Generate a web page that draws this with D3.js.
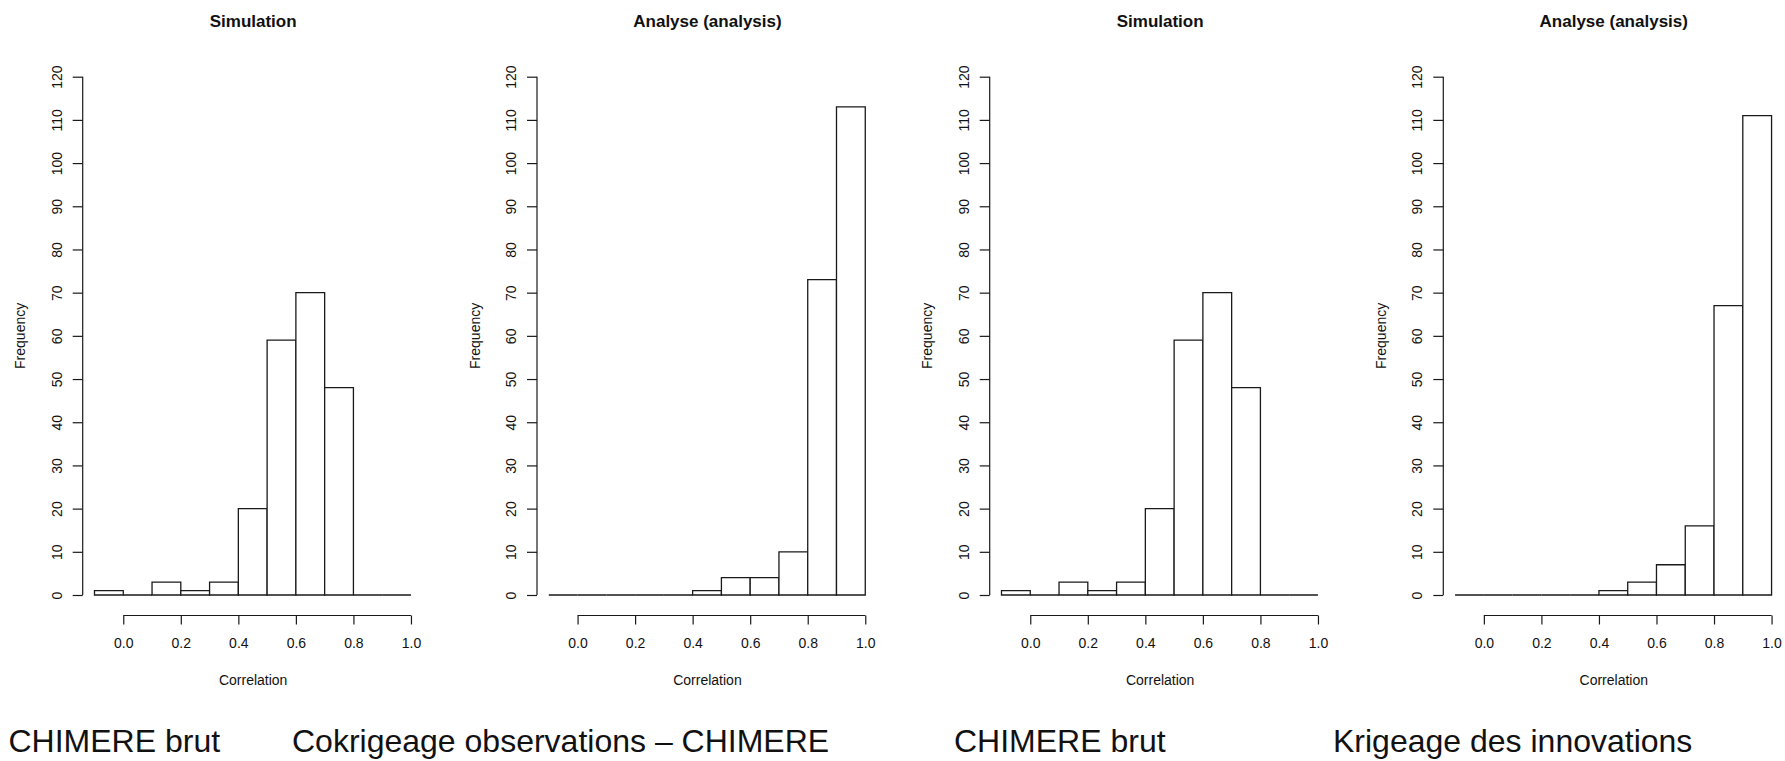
<!DOCTYPE html>
<html>
<head>
<meta charset="utf-8">
<script src="https://cdn.jsdelivr.net/npm/d3@7"></script>
<style>
  body { margin: 0; background: #fff; }
  svg { display: block; }
  text { font-family: "Liberation Sans", Arial, Helvetica, sans-serif; fill: #111; }
</style>
</head>
<body>
<svg id="chart" width="1785" height="761"></svg>
<script>
// Histogram bins of the correlation coefficient (edges shared by every panel)
const binEdges = [-0.1, 0.0, 0.1, 0.2, 0.3, 0.4, 0.5, 0.6, 0.7, 0.8, 0.9, 1.0];

// Counts per bin
const simulationCounts = [1, 0, 3, 1, 3, 20, 59, 70, 48, 0, 0];
const cokrigeageCounts = [0, 0, 0, 0, 0, 1, 4, 4, 10, 73, 113];
const krigeageCounts   = [0, 0, 0, 0, 0, 1, 3, 7, 16, 67, 111];

// Axis ticks
const correlationTicks = [0.0, 0.2, 0.4, 0.6, 0.8, 1.0];
const frequencyTicks = [0, 10, 20, 30, 40, 50, 60, 70, 80, 90, 100, 110, 120];

// Panels, left to right
const panelTitles = ["Simulation", "Analyse (analysis)", "Simulation", "Analyse (analysis)"];
const panelCounts = [simulationCounts, cokrigeageCounts, simulationCounts, krigeageCounts];
const captions = ["CHIMERE brut", "Cokrigeage observations \u2013 CHIMERE", "CHIMERE brut", "Krigeage des innovations"];

// Layout
const panelLeft = [82.7, 537, 989.7, 1443.3];   // x of each panel's frequency axis
const captionLeft = [8.5, 292, 954, 1333];
const unitWidth = 287.7;                         // pixels for one unit of correlation
const xDomain = [-0.141, 1.044];
const yTop = 76.7, yBottom = 595;
const xAxisY = 615.5;
const ink = "#1a1a1a";

const svg = d3.select("#chart");
svg.append("rect").attr("width", 1785).attr("height", 761).attr("fill", "#fff");

panelTitles.forEach((title, p) => {
  const left = panelLeft[p];
  const x = d3.scaleLinear()
    .domain(xDomain)
    .range([left, left + (xDomain[1] - xDomain[0]) * unitWidth]);
  const y = d3.scaleLinear().domain([0, 120]).range([yBottom, yTop]);
  const centerX = (x.range()[0] + x.range()[1]) / 2;

  const g = svg.append("g");

  // bars as closed outlines, so empty bins still show as a line on the baseline
  const bins = panelCounts[p].map((c, i) => ({ x0: binEdges[i], x1: binEdges[i + 1], count: c }));
  g.selectAll("path.bar").data(bins).join("path")
    .attr("class", "bar")
    .attr("d", d => {
      const p0 = d3.path();
      p0.moveTo(x(d.x0), y(0));
      p0.lineTo(x(d.x0), y(d.count));
      p0.lineTo(x(d.x1), y(d.count));
      p0.lineTo(x(d.x1), y(0));
      p0.closePath();
      return p0.toString();
    })
    .attr("fill", "#fff")
    .attr("stroke", ink)
    .attr("stroke-width", 1.3);

  // x axis
  const xAxis = g.append("g").attr("transform", `translate(0,${xAxisY})`)
    .call(d3.axisBottom(x).tickValues(correlationTicks).tickSize(9).tickFormat(d3.format(".1f")));
  xAxis.select(".domain").remove();
  xAxis.append("line")
    .attr("x1", x(correlationTicks[0])).attr("x2", x(correlationTicks[correlationTicks.length - 1]))
    .attr("stroke", ink).attr("stroke-width", 1.2);
  xAxis.selectAll(".tick line").attr("stroke", ink).attr("stroke-width", 1.2);
  xAxis.selectAll(".tick text")
    .attr("y", 32.5).attr("dy", null)
    .attr("font-size", 14).attr("fill", "#111")
    .style("font-family", "'Liberation Sans', Arial, sans-serif");

  // y axis
  const yAxis = g.append("g").attr("transform", `translate(${left},0)`)
    .call(d3.axisLeft(y).tickValues(frequencyTicks).tickSize(10));
  yAxis.select(".domain").remove();
  yAxis.append("line")
    .attr("y1", y(0)).attr("y2", y(120))
    .attr("stroke", ink).attr("stroke-width", 1.2);
  yAxis.selectAll(".tick line").attr("stroke", ink).attr("stroke-width", 1.2);
  yAxis.selectAll(".tick text")
    .attr("x", null).attr("dy", null)
    .attr("transform", "translate(-21,0) rotate(-90)")
    .attr("text-anchor", "middle")
    .attr("font-size", 14).attr("fill", "#111")
    .style("font-family", "'Liberation Sans', Arial, sans-serif");

  // titles and axis labels
  g.append("text")
    .attr("x", centerX).attr("y", 26.5)
    .attr("text-anchor", "middle")
    .attr("font-size", 17).attr("font-weight", "bold")
    .text(title);

  g.append("text")
    .attr("x", centerX).attr("y", 685)
    .attr("text-anchor", "middle")
    .attr("font-size", 14)
    .text("Correlation");

  g.append("text")
    .attr("transform", `translate(${left - 57.5},${y(60)}) rotate(-90)`)
    .attr("text-anchor", "middle")
    .attr("font-size", 14)
    .text("Frequency");
});

// captions under the panels
svg.selectAll("text.caption").data(captions).join("text")
  .attr("class", "caption")
  .attr("x", (d, i) => captionLeft[i])
  .attr("y", 752)
  .attr("font-size", 32)
  .attr("fill", "#000")
  .text(d => d);
</script>
</body>
</html>
